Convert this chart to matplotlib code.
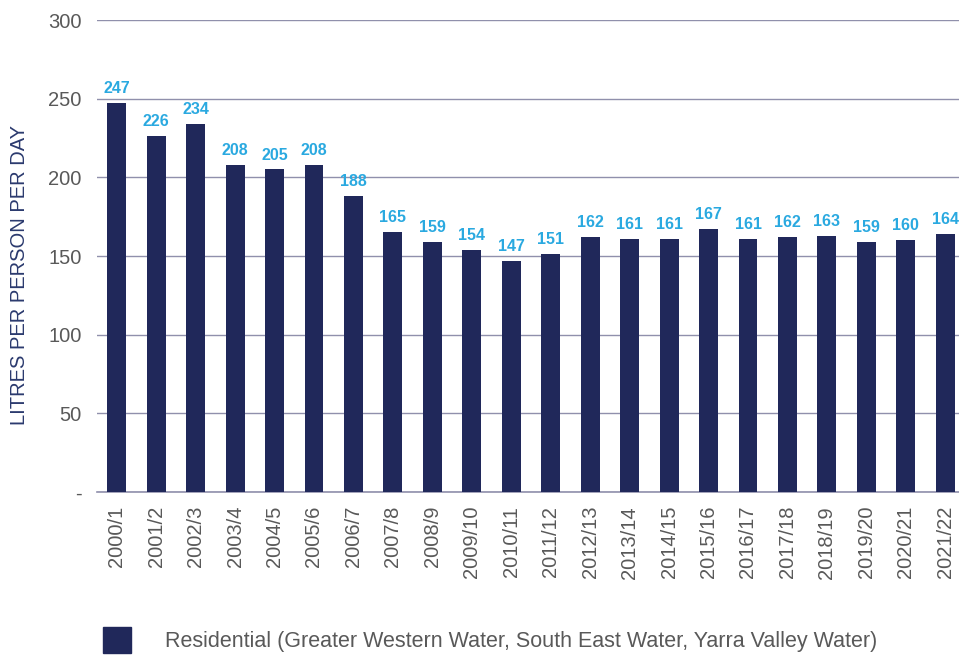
import matplotlib
matplotlib.use("Agg")
import matplotlib.pyplot as plt
from matplotlib.patches import Patch

plt.rcParams['font.family'] = ['Liberation Sans', 'DejaVu Sans']

years = ["2000/1", "2001/2", "2002/3", "2003/4", "2004/5", "2005/6", "2006/7", "2007/8",
         "2008/9", "2009/10", "2010/11", "2011/12", "2012/13", "2013/14", "2014/15",
         "2015/16", "2016/17", "2017/18", "2018/19", "2019/20", "2020/21", "2021/22"]
values = [247, 226, 234, 208, 205, 208, 188, 165, 159, 154, 147, 151, 162, 161, 161,
          167, 161, 162, 163, 159, 160, 164]
yticks = [0, 50, 100, 150, 200, 250, 300]
ytick_labels = ["-", "50", "100", "150", "200", "250", "300"]
legend_label = "Residential (Greater Western Water, South East Water, Yarra Valley Water)"

bar_color = "#20285a"
label_color = "#2aa9e0"
grid_color = "#9090ac"
text_gray = "#595959"

fig = plt.figure(figsize=(9.59, 6.55), dpi=100)
ax = fig.add_axes([97/959, 1 - 492/655, (965-97)/959, (492-20)/655])

x = list(range(len(years)))
ax.bar(x, values, width=0.48, color=bar_color, zorder=3)
for xi, v in zip(x, values):
    ax.annotate(str(v), (xi, v), xytext=(0, 5), textcoords="offset points",
                ha="center", va="bottom", color=label_color, fontsize=11.5,
                fontweight="bold", zorder=4)

ax.set_xlim(-0.5, len(years) - 0.5)
ax.set_ylim(0, 300)
ax.set_yticks(yticks)
ax.set_yticklabels(ytick_labels, color=text_gray, fontsize=14.5)
ax.set_xticks(x)
ax.set_xticklabels(years, rotation=90, color=text_gray, fontsize=14.5)
ax.tick_params(axis='both', length=0)
ax.tick_params(axis='y', pad=11)
ax.tick_params(axis='x', pad=10)

ax.yaxis.grid(True, color=grid_color, linewidth=1.0, zorder=0)
for s in ["top", "right", "left"]:
    ax.spines[s].set_visible(False)
ax.spines["bottom"].set_color(grid_color)
ax.spines["bottom"].set_linewidth(1.2)

fig.text(20/959, 1 - 275/655, "LITRES PER PERSON PER DAY", rotation=90,
         ha="center", va="center", color="#2b3a6e", fontsize=14.5)

fig.legend(handles=[Patch(facecolor=bar_color, edgecolor=bar_color)],
           labels=[legend_label], loc="center left",
           bbox_to_anchor=(103/959, 1 - 640/655), frameon=False,
           borderpad=0, borderaxespad=0,
           handlelength=1.3, handleheight=1.45, handletextpad=1.6,
           prop={'size': 15.5}, labelcolor=text_gray)

fig.savefig("out.png", dpi=100)
